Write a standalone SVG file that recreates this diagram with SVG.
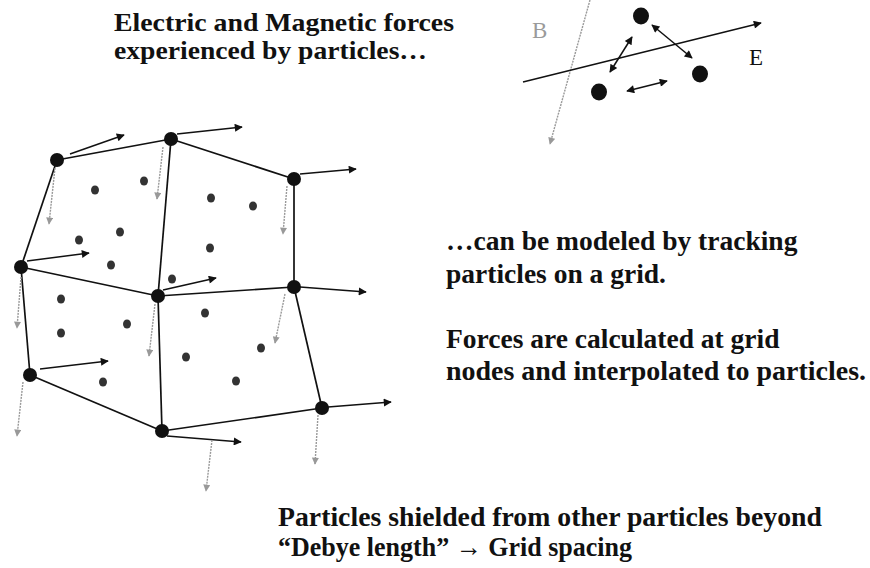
<svg xmlns="http://www.w3.org/2000/svg" width="870" height="568" viewBox="0 0 870 568">
<style>
.t{font-family:"Liberation Serif","Times New Roman",serif;font-weight:bold;font-size:27.5px;fill:#111}
.t2{font-family:"Liberation Serif","Times New Roman",serif;font-weight:bold;font-size:26px;fill:#111}
.edge{stroke:#111;stroke-width:1.7;fill:none}
.e{stroke:#111;stroke-width:1.5;fill:none;marker-end:url(#ah)}
.b{stroke:#9a9a9a;stroke-width:1.4;stroke-dasharray:2 1;fill:none;marker-end:url(#gh)}
.d{stroke:#111;stroke-width:1.5;fill:none;marker-start:url(#ah2);marker-end:url(#ah2)}
.node{fill:#111}
.p{fill:#333}
.lbl{font-family:"Liberation Serif","Times New Roman",serif;font-size:23px}
</style>
<defs>
<marker id="ah" viewBox="0 0 10 10" refX="9" refY="5" markerWidth="11" markerHeight="8" markerUnits="userSpaceOnUse" orient="auto"><path d="M0,0L10,5L0,10z" fill="#111"/></marker>
<marker id="ah2" viewBox="0 0 10 10" refX="9" refY="5" markerWidth="10" markerHeight="8" markerUnits="userSpaceOnUse" orient="auto-start-reverse"><path d="M0,0L10,5L0,10z" fill="#111"/></marker>
<marker id="gh" viewBox="0 0 10 10" refX="9" refY="5" markerWidth="8" markerHeight="7" markerUnits="userSpaceOnUse" orient="auto"><path d="M0,0L10,5L0,10z" fill="#999"/></marker>
</defs>
<rect width="870" height="568" fill="#fff"/>

<g id="connectors">
<line class="edge" x1="57" y1="160" x2="171" y2="139"/>
<line class="edge" x1="171" y1="139" x2="294" y2="179"/>
<line class="edge" x1="57" y1="160" x2="21" y2="267"/>
<line class="edge" x1="171" y1="139" x2="158" y2="296"/>
<line class="edge" x1="294" y1="179" x2="294" y2="287"/>
<line class="edge" x1="21" y1="267" x2="158" y2="296"/>
<line class="edge" x1="158" y1="296" x2="294" y2="287"/>
<line class="edge" x1="21" y1="267" x2="30" y2="375"/>
<line class="edge" x1="158" y1="296" x2="162" y2="431"/>
<line class="edge" x1="294" y1="287" x2="322" y2="408"/>
<line class="edge" x1="30" y1="375" x2="162" y2="431"/>
<line class="edge" x1="162" y1="431" x2="322" y2="408"/>

<line class="e" x1="70" y1="154" x2="124" y2="135"/>
<line class="e" x1="177" y1="134" x2="242" y2="127"/>
<line class="e" x1="300" y1="174" x2="356" y2="169"/>
<line class="e" x1="27" y1="261" x2="89" y2="253"/>
<line class="e" x1="163" y1="290" x2="216" y2="278"/>
<line class="e" x1="300" y1="287" x2="366" y2="292"/>
<line class="e" x1="40" y1="369" x2="108" y2="361"/>
<line class="e" x1="167" y1="436" x2="241" y2="442"/>
<line class="e" x1="328" y1="407" x2="391" y2="402"/>

<line class="b" x1="55" y1="168" x2="49" y2="224"/>
<line class="b" x1="163" y1="147" x2="157" y2="199"/>
<line class="b" x1="287" y1="186" x2="283" y2="234"/>
<line class="b" x1="21" y1="277" x2="17" y2="328"/>
<line class="b" x1="155" y1="304" x2="149" y2="356"/>
<line class="b" x1="285" y1="294" x2="275" y2="343"/>
<line class="b" x1="23" y1="382" x2="17" y2="436"/>
<line class="b" x1="212" y1="440" x2="206" y2="491"/>
<line class="b" x1="318" y1="415" x2="315" y2="464"/>

<line class="b" x1="590" y1="0" x2="550" y2="144"/>
<line class="e" x1="523" y1="82" x2="761" y2="23"/>
<line class="d" x1="610" y1="72" x2="632" y2="37"/>
<line class="d" x1="652" y1="25" x2="692" y2="58"/>
<line class="d" x1="627" y1="91" x2="667" y2="81"/>
</g>

<g id="nodes">
<circle id="n1" class="node" cx="57" cy="160" r="7"/>
<circle id="n2" class="node" cx="171" cy="139" r="7"/>
<circle id="n3" class="node" cx="294" cy="179" r="7"/>
<circle id="n4" class="node" cx="21" cy="267" r="7"/>
<circle id="n5" class="node" cx="158" cy="296" r="7"/>
<circle id="n6" class="node" cx="294" cy="287" r="7"/>
<circle id="n7" class="node" cx="30" cy="375" r="7"/>
<circle id="n8" class="node" cx="162" cy="431" r="7"/>
<circle id="n9" class="node" cx="322" cy="408" r="7"/>
</g>

<g id="particles">
<ellipse class="p" cx="95" cy="190" rx="4" ry="4.5"/>
<ellipse class="p" cx="144" cy="181" rx="4" ry="4.5"/>
<ellipse class="p" cx="120" cy="232" rx="4" ry="4.5"/>
<ellipse class="p" cx="79" cy="240" rx="4" ry="4.5"/>
<ellipse class="p" cx="111" cy="265" rx="4" ry="4.5"/>
<ellipse class="p" cx="211" cy="198" rx="4" ry="4.5"/>
<ellipse class="p" cx="253" cy="206" rx="4" ry="4.5"/>
<ellipse class="p" cx="210" cy="248" rx="4" ry="4.5"/>
<ellipse class="p" cx="172" cy="279" rx="4" ry="4.5"/>
<ellipse class="p" cx="61" cy="299" rx="4" ry="4.5"/>
<ellipse class="p" cx="61" cy="333" rx="4" ry="4.5"/>
<ellipse class="p" cx="127" cy="324" rx="4" ry="4.5"/>
<ellipse class="p" cx="205" cy="313" rx="4" ry="4.5"/>
<ellipse class="p" cx="261" cy="348" rx="4" ry="4.5"/>
<ellipse class="p" cx="186" cy="357" rx="4" ry="4.5"/>
<ellipse class="p" cx="236" cy="381" rx="4" ry="4.5"/>
<ellipse class="p" cx="103" cy="382" rx="4" ry="4.5"/>
</g>

<g id="field-diagram">
<ellipse id="q1" class="node" cx="641" cy="16" rx="8" ry="8.5"/>
<ellipse id="q2" class="node" cx="599" cy="92" rx="8" ry="8.5"/>
<ellipse id="q3" class="node" cx="700" cy="74" rx="8" ry="8.5"/>
<text class="lbl" x="532" y="38" fill="#9a9a9a">B</text>
<text class="lbl" x="749" y="65" fill="#111">E</text>
</g>

<g id="labels">
<text class="t2" x="114" y="31" textLength="340" lengthAdjust="spacingAndGlyphs">Electric and Magnetic forces</text>
<text class="t2" x="114" y="59" textLength="313" lengthAdjust="spacingAndGlyphs">experienced by particles…</text>
<text class="t" x="446" y="250">…can be modeled by tracking</text>
<text class="t" x="446" y="283">particles on a grid.</text>
<text class="t" x="446" y="348">Forces are calculated at grid</text>
<text class="t" x="446" y="380" textLength="420" lengthAdjust="spacingAndGlyphs">nodes and interpolated to particles.</text>
<text class="t" x="278" y="526" textLength="544" lengthAdjust="spacingAndGlyphs">Particles shielded from other particles beyond</text>
<text class="t" x="278" y="556" textLength="354" lengthAdjust="spacingAndGlyphs">“Debye length” → Grid spacing</text>
</g>
</svg>
